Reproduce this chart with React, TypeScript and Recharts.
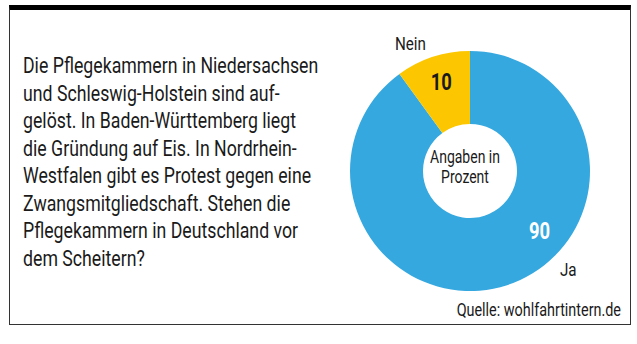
import { PieChart, Pie, Cell } from "recharts";

const categories = ["Ja", "Nein"];
const values = [90, 10];
const colors = ["#35a8e0", "#fcc700"];

const questionLines = [
  "Die Pflegekammern in Niedersachsen",
  "und Schleswig-Holstein sind auf-",
  "gelöst. In Baden-Württemberg liegt",
  "die Gründung auf Eis. In Nordrhein-",
  "Westfalen gibt es Protest gegen eine",
  "Zwangsmitgliedschaft. Stehen die",
  "Pflegekammern in Deutschland vor",
  "dem Scheitern?",
];

const centerLines = ["Angaben in", "Prozent"];
const source = "Quelle: wohlfahrtintern.de";

const data = categories.map((name, i) => ({ name, value: values[i] }));

const FONT = "Roboto, 'Noto Sans', sans-serif";
const SQUEEZE = 0.8;
const RAD = Math.PI / 180;

// label placement per slice: [angle of value, radius of value, angle of name, radius of name]
const labelPlace: Record<string, number[]> = {
  Ja: [-41, 92, -45, 139],
  Nein: [108, 93, 115, 141],
};

function NarrowText({ x, y, anchor = "middle", size, bold, fill = "#1a1a1a", children }: any) {
  return (
    <text
      transform={`translate(${x},${y}) scale(${SQUEEZE},1)`}
      textAnchor={anchor}
      dominantBaseline="central"
      fontFamily={FONT}
      fontWeight={bold ? "bold" : "normal"}
      fontSize={size}
      fill={fill}
    >
      {children}
    </text>
  );
}

function renderLabel(props: any) {
  const { cx, cy, name, value, index } = props;
  const [va, vr, na, nr] = labelPlace[name];
  return (
    <g key={`lbl-${index}`}>
      <NarrowText
        x={cx + vr * Math.cos(va * RAD)}
        y={cy - vr * Math.sin(va * RAD)}
        size={23}
        bold
        fill={index === 0 ? "#ffffff" : "#1a1a1a"}
      >
        {value}
      </NarrowText>
      <NarrowText x={cx + nr * Math.cos(na * RAD)} y={cy - nr * Math.sin(na * RAD)} size={19}>
        {name}
      </NarrowText>
    </g>
  );
}

export default function App() {
  const cx = 455;
  const cy = 161;
  return (
    <div
      style={{
        position: "absolute",
        left: 9,
        top: 5,
        width: 620,
        height: 314,
        borderTop: "5px solid #000",
        borderLeft: "1px solid #333",
        borderRight: "1px solid #333",
        borderBottom: "1px solid #333",
        background: "#fff",
        fontFamily: FONT,
        color: "#1a1a1a",
      }}
    >
      <div style={{ position: "absolute", left: 0, top: -5 }}>
        <PieChart width={620} height={320}>
          <Pie
            data={data}
            dataKey="value"
            nameKey="name"
            cx={cx}
            cy={cy}
            innerRadius={47}
            outerRadius={120}
            startAngle={90}
            endAngle={-270}
            stroke="none"
            label={renderLabel}
            labelLine={false}
            isAnimationActive={false}
          >
            {data.map((_, i) => (
              <Cell key={i} fill={colors[i]} />
            ))}
          </Pie>
          <NarrowText x={cx} y={cy - 9} size={17.5}>
            {centerLines[0]}
          </NarrowText>
          <NarrowText x={cx} y={cy + 11} size={17.5}>
            {centerLines[1]}
          </NarrowText>
          <NarrowText x={611} y={305} anchor="end" size={18}>
            {source}
          </NarrowText>
        </PieChart>
      </div>
      <div
        style={{
          position: "absolute",
          left: 13,
          top: 42,
          fontSize: 22,
          lineHeight: "27.5px",
          whiteSpace: "pre",
          transform: "scaleX(0.805)",
          transformOrigin: "left top",
        }}
      >
        {questionLines.map((l, i) => (
          <div key={i}>{l}</div>
        ))}
      </div>
    </div>
  );
}
